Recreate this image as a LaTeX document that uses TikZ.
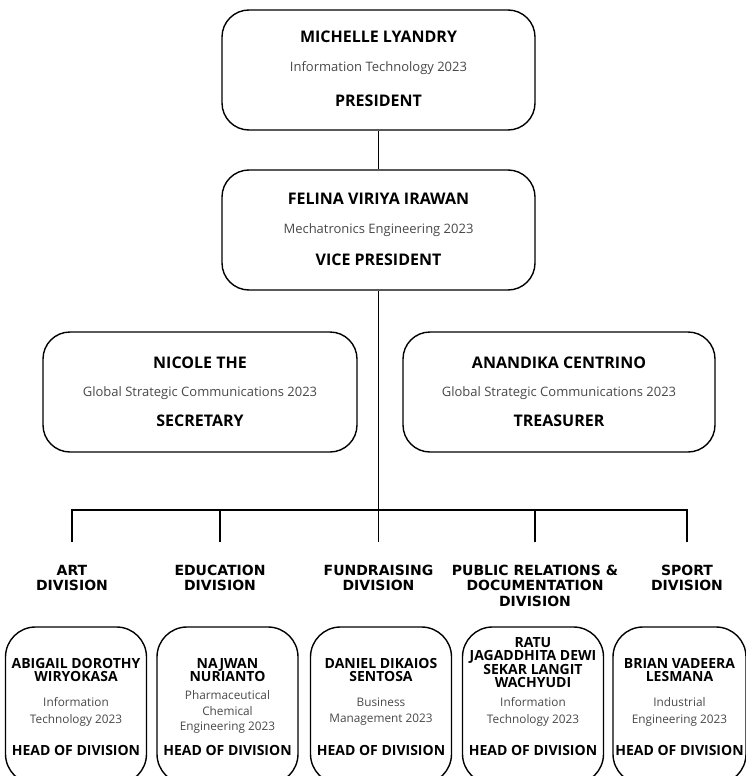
\documentclass[tikz,border=0pt]{standalone}
\usepackage{fontspec}
\setmainfont{Open Sans}
\newfontfamily\divfont{DejaVu Sans}
\definecolor{subgray}{HTML}{484848}
\begin{document}
\begin{tikzpicture}[x=1pt,y=-1pt,
  bigbox/.style={draw=black, line width=1.4pt, rounded corners=27pt, minimum width=313pt, minimum height=120pt, inner sep=0pt},
  smallbox/.style={draw=black, line width=1.4pt, rounded corners=30pt, minimum width=141pt, minimum height=157pt, inner sep=0pt},
  pname/.style={font=\bfseries\fontsize{16}{18}\selectfont, inner sep=0pt, anchor=base},
  psub/.style={font=\fontsize{13}{15}\selectfont, text=subgray, inner sep=0pt, anchor=base},
  prole/.style={font=\bfseries\fontsize{16}{18}\selectfont, inner sep=0pt, anchor=base},
  divlabel/.style={font=\divfont\bfseries\fontsize{14}{15.3}\selectfont, align=center, anchor=north, inner sep=0pt},
  bname/.style={font=\bfseries\fontsize{14}{13.5}\selectfont, align=center, anchor=north, inner sep=0pt},
  bsub/.style={font=\fontsize{11.8}{16.5}\selectfont, text=subgray, align=center, anchor=north, inner sep=0pt},
  brole/.style={font=\bfseries\fontsize{14}{16}\selectfont, inner sep=0pt, anchor=base},
  link/.style={line width=1.5pt}]
\useasboundingbox (0,0) rectangle (746,776);
\clip (0,0) rectangle (746,776);

% top boxes
\node[bigbox] (pres) at (378.5,70) {};
\node[pname] (presn) at (378.5,42.3) {MICHELLE LYANDRY};
\node[psub] (press) at (378.5,71) {Information Technology 2023};
\node[prole] (presr) at (378.5,106.5) {PRESIDENT};

\node[bigbox] (vp) at (378.5,230) {};
\node[pname] (vpn) at (378.5,204) {FELINA VIRIYA IRAWAN};
\node[psub] (vps) at (378.5,233.7) {Mechatronics Engineering 2023};
\node[prole] (vpr) at (378.5,265.7) {VICE PRESIDENT};

\node[bigbox, minimum width=314pt] (sec) at (200,392) {};
\node[pname] (secn) at (200,368.6) {NICOLE THE};
\node[psub] (secs) at (200,396.5) {Global Strategic Communications 2023};
\node[prole] (secr) at (200,426.3) {SECRETARY};

\node[bigbox, minimum width=312pt] (tre) at (559,392) {};
\node[pname] (tren) at (559,368.6) {ANANDIKA CENTRINO};
\node[psub] (tres) at (559,396.5) {Global Strategic Communications 2023};
\node[prole] (trer) at (559,426.3) {TREASURER};

% connectors
\coordinate (bus) at (378.5,510);
\coordinate (d1) at (72,542);
\coordinate (d2) at (220,542);
\coordinate (d3) at (378.5,542);
\coordinate (d4) at (535,542);
\coordinate (d5) at (687,542);
\draw[link] (pres.south) -- (vp.north);
\draw[link] (vp.south) -- (d3);
\draw[link] (d1) -- (d1 |- bus) -- (d5 |- bus) -- (d5);
\draw[link] (d2) -- (d2 |- bus);
\draw[link] (d4) -- (d4 |- bus);

% division labels
\node[divlabel] (l1) at (72,565) {ART\\DIVISION};
\node[divlabel] (l2) at (220,565) {EDUCATION\\DIVISION};
\node[divlabel] (l3) at (378.5,565) {FUNDRAISING\\DIVISION};
\node[divlabel] (l4) at (535,565) {PUBLIC RELATIONS \&\\DOCUMENTATION\\DIVISION};
\node[divlabel] (l5) at (687,565) {SPORT\\DIVISION};

% bottom boxes
\node[smallbox] (b1) at (76,705.5) {};
\node[bname] (b1n) at (76,658) {ABIGAIL DOROTHY\\WIRYOKASA};
\node[bsub] (b1s) at (76,697.5) {Information\\Technology 2023};
\node[brole] (b1r) at (76,755) {HEAD OF DIVISION};

\node[smallbox] (b2) at (227.5,705.5) {};
\node[bname] (b2n) at (227.5,658) {NAJWAN\\NURIANTO};
\node[bsub, font=\fontsize{11.8}{15.5}\selectfont] (b2s) at (227.5,690.5) {Pharmaceutical\\Chemical\\Engineering 2023};
\node[brole] (b2r) at (227.5,755) {HEAD OF DIVISION};

\node[smallbox] (b3) at (381,705.5) {};
\node[bname] (b3n) at (381,658) {DANIEL DIKAIOS\\SENTOSA};
\node[bsub] (b3s) at (381,697.5) {Business\\Management 2023};
\node[brole] (b3r) at (381,755) {HEAD OF DIVISION};

\node[smallbox] (b4) at (533,705.5) {};
\node[bname, font=\bfseries\fontsize{14}{13}\selectfont] (b4n) at (533,637) {RATU\\JAGADDHITA DEWI\\SEKAR LANGIT\\WACHYUDI};
\node[bsub] (b4s) at (533,697.5) {Information\\Technology 2023};
\node[brole] (b4r) at (533,755) {HEAD OF DIVISION};

\node[smallbox, minimum width=133pt] (b5) at (679.5,705.5) {};
\node[bname] (b5n) at (679.5,658) {BRIAN VADEERA\\LESMANA};
\node[bsub] (b5s) at (679.5,697.5) {Industrial\\Engineering 2023};
\node[brole] (b5r) at (679.5,755) {HEAD OF DIVISION};
\end{tikzpicture}
\end{document}
